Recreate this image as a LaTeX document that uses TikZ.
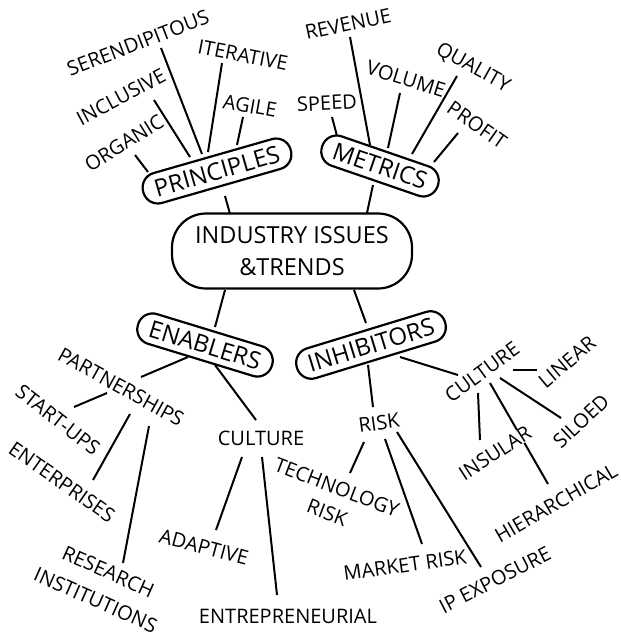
\documentclass[tikz,border=0pt]{standalone}
\usepackage{fontspec}
\setmainfont{Open Sans}
\usetikzlibrary{backgrounds}
\tikzset{
  box/.style={draw, line width=2.2pt, rounded corners=15pt, minimum height=31pt, inner xsep=12pt, font=\fontsize{24}{28}\selectfont},
  hub/.style={draw, line width=2.2pt, rounded corners=34pt, minimum width=240pt, minimum height=75pt, align=center, font=\fontsize{23.5}{32}\selectfont},
  leaf/.style={inner sep=0pt, align=center, font=\fontsize{20}{30}\selectfont},
  conn/.style={line width=2pt}
}
\newcommand\link[4]{\draw[conn] ([shift={#2}]#1.center) -- ([shift={#4}]#3.center);}
\begin{document}
\begin{tikzpicture}[x=1pt,y=-1pt]
\useasboundingbox (0,0) rectangle (621,638);
% hub and boxes
\node[hub] (center) at (292,251) {INDUSTRY ISSUES\\\&TRENDS};
\node[box, rotate=16] (principles) at (217,171) {PRINCIPLES};
\node[box, rotate=-19] (metrics) at (380,166) {METRICS};
\node[box, rotate=-17] (enablers) at (205,345) {ENABLERS};
\node[box, rotate=17] (inhibitors) at (371,345) {INHIBITORS};
% principles leaves
\node[leaf, rotate=21] (serendipitous) at (138,43) {SERENDIPITOUS};
\node[leaf, rotate=-11] (iterative) at (243,55) {ITERATIVE};
\node[leaf, rotate=28] (inclusive) at (121,97) {INCLUSIVE};
\node[leaf, rotate=-10] (agile) at (250,106) {AGILE};
\node[leaf, rotate=32] (organic) at (124,143) {ORGANIC};
% metrics leaves
\node[leaf, rotate=12] (revenue) at (348,24) {REVENUE};
\node[leaf, rotate=3] (speed) at (327,103) {SPEED};
\node[leaf, rotate=-17] (volume) at (406,79) {VOLUME};
\node[leaf, rotate=-29] (quality) at (473,68) {QUALITY};
\node[leaf, rotate=-35] (profit) at (477,125) {PROFIT};
% enablers leaves
\node[leaf, rotate=-29] (partnerships) at (121,387) {PARTNERSHIPS};
\node[leaf, rotate=-38] (startups) at (58,420) {START-UPS};
\node[leaf, rotate=-35] (enterprises) at (62,482) {ENTERPRISES};
\node[leaf, rotate=-24, font=\fontsize{20}{31}\selectfont] (research) at (102,586) {RESEARCH\\INSTITUTIONS};
\node[leaf] (eculture) at (261,438) {CULTURE};
\node[leaf, rotate=-15] (adaptive) at (204,547) {ADAPTIVE};
\node[leaf] (entrepreneurial) at (288,616) {ENTREPRENEURIAL};
% inhibitors leaves
\node[leaf, rotate=8] (risk) at (379,423) {RISK};
\node[leaf, rotate=36] (iculture) at (482,372) {CULTURE};
\node[leaf, rotate=40] (linear) at (567,362) {LINEAR};
\node[leaf, fill=white, rotate=33] (insular) at (495,453) {INSULAR};
\node[leaf, rotate=43] (siloed) at (581,421) {SILOED};
\node[leaf, rotate=30] (hierarchical) at (556,503) {HIERARCHICAL};
\node[leaf, rotate=-21, font=\fontsize{20}{27}\selectfont] (tech) at (332,500) {TECHNOLOGY\\RISK};
\node[leaf, rotate=8] (market) at (405,565) {MARKET RISK};
\node[leaf, rotate=27] (ipexp) at (495,580) {IP EXPOSURE};
\begin{pgfonlayer}{background}
\link{principles}{(8,25)}{center}{(-62,-37)}
\link{metrics}{(-7,19)}{center}{(75,-38)}
\link{center}{(-67,39)}{enablers}{(10,-18)}
\link{center}{(62,39)}{inhibitors}{(-5,-22)}
\link{principles}{(-15,-17)}{serendipitous}{(23,5)}
\link{principles}{(-9,-19)}{iterative}{(-21,8)}
\link{principles}{(-27,-14)}{inclusive}{(33,3)}
\link{principles}{(20,-26)}{agile}{(-7,11)}
\link{principles}{(-69,1)}{organic}{(11,12)}
\link{metrics}{(-10,-21)}{revenue}{(2,13)}
\link{metrics}{(-43,-30)}{speed}{(5,14)}
\link{metrics}{(8,-18)}{volume}{(-6,14)}
\link{metrics}{(32,-12)}{quality}{(-16,8)}
\link{metrics}{(54,-4)}{profit}{(-19,8)}
\link{enablers}{(-17,12)}{partnerships}{(20,-10)}
\link{enablers}{(10,20)}{eculture}{(-5,-18)}
\link{partnerships}{(-14,6)}{startups}{(16,-13)}
\link{partnerships}{(9,27)}{enterprises}{(31,-2)}
\link{partnerships}{(28,39)}{research}{(21,-23)}
\link{eculture}{(-19,19)}{adaptive}{(12,-17)}
\link{eculture}{(1,19)}{entrepreneurial}{(-11,-21)}
\link{inhibitors}{(-3,20)}{risk}{(-6,-16)}
\link{inhibitors}{(29,12)}{iculture}{(-24,3)}
\link{iculture}{(31,-2)}{linear}{(-30,8)}
\link{iculture}{(-4,21)}{insular}{(-15,-13)}
\link{iculture}{(18,6)}{siloed}{(-20,-3)}
\link{iculture}{(8,11)}{hierarchical}{(-8,-19)}
\link{risk}{(-15,19)}{tech}{(18,-27)}
\link{risk}{(6,16)}{market}{(17,-21)}
\link{risk}{(18,9)}{ipexp}{(-14,-13)}
\end{pgfonlayer}
\end{tikzpicture}
\end{document}
